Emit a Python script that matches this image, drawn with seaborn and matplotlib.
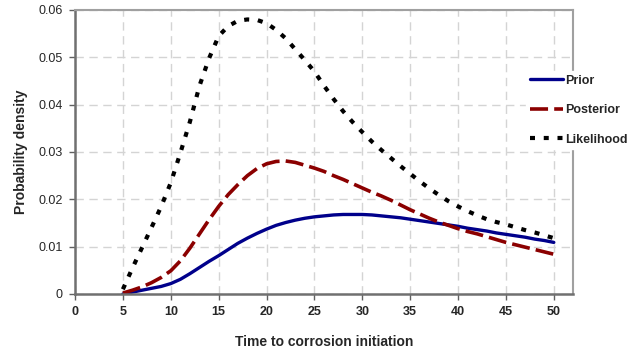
import numpy as np
import pandas as pd
import matplotlib
matplotlib.use("Agg")
import matplotlib.pyplot as plt
import seaborn as sns

# Time to corrosion initiation (years)
time = list(range(5, 51))

prior = [0.0000, 0.0004, 0.0008, 0.0012, 0.0016, 0.0022, 0.0031, 0.0043, 0.0056, 0.0069,
         0.0081, 0.0094, 0.0107, 0.0118, 0.0128, 0.0137, 0.0145, 0.0151, 0.0156, 0.0160,
         0.0163, 0.0165, 0.0167, 0.0168, 0.0168, 0.0168, 0.0167, 0.0165, 0.0163, 0.0161,
         0.0158, 0.0155, 0.0152, 0.0149, 0.0146, 0.0143, 0.0139, 0.0136, 0.0133, 0.0129,
         0.0126, 0.0123, 0.0120, 0.0116, 0.0113, 0.0109]

posterior = [0.0002, 0.0008, 0.0015, 0.0024, 0.0035, 0.0049, 0.0070, 0.0097, 0.0127, 0.0157,
             0.0185, 0.0210, 0.0231, 0.0250, 0.0265, 0.0275, 0.0280, 0.0281, 0.0278, 0.0272,
             0.0266, 0.0259, 0.0250, 0.0242, 0.0233, 0.0224, 0.0215, 0.0207, 0.0198, 0.0188,
             0.0178, 0.0169, 0.0160, 0.0152, 0.0145, 0.0138, 0.0132, 0.0127, 0.0121, 0.0115,
             0.0109, 0.0104, 0.0099, 0.0094, 0.0089, 0.0084]

likelihood = [0.0010, 0.0055, 0.0098, 0.0141, 0.0185, 0.0235, 0.0298, 0.0364, 0.0440, 0.0498,
              0.0545, 0.0566, 0.0577, 0.0580, 0.0579, 0.0572, 0.0558, 0.0540, 0.0517, 0.0494,
              0.0470, 0.0440, 0.0412, 0.0386, 0.0363, 0.0342, 0.0322, 0.0304, 0.0287, 0.0270,
              0.0254, 0.0238, 0.0223, 0.0209, 0.0196, 0.0185, 0.0175, 0.0166, 0.0158, 0.0152,
              0.0147, 0.0141, 0.0135, 0.0130, 0.0124, 0.0118]

x_ticks = list(range(0, 51, 5))
y_ticks = [0, 0.01, 0.02, 0.03, 0.04, 0.05, 0.06]
y_tick_labels = ["0", "0.01", "0.02", "0.03", "0.04", "0.05", "0.06"]

sns.set_style("white")
plt.rcParams["font.family"] = ["Liberation Sans", "DejaVu Sans"]

fig = plt.figure(figsize=(6.32, 3.54), dpi=100)
ax = fig.add_axes([0.1187, 0.1695, 0.7879, 0.8023])

series = [
    ("Prior", prior, "#00008B", "-", 2.4),
    ("Posterior", posterior, "#8B0000", (0, (5, 1.7)), 2.6),
    ("Likelihood", likelihood, "#000000", (0, (1.2, 2.1)), 3.0),
]
for name, vals, color, ls, lw in series:
    df = pd.DataFrame({"t": time, "p": vals})
    sns.lineplot(data=df, x="t", y="p", ax=ax, color=color, linestyle=ls,
                 linewidth=lw, label=name)
for line in ax.lines:
    line.set_dash_capstyle("butt")

ax.set_xlim(0, 52)
ax.set_ylim(0, 0.06)
ax.set_xticks(x_ticks)
ax.set_xticklabels([str(t) for t in x_ticks], fontweight="bold", fontsize=9)
ax.set_yticks(y_ticks)
ax.set_yticklabels(y_tick_labels, fontsize=9)

ax.grid(True, color="#d4d4d4", linestyle=(0, (6, 4)), linewidth=1)
ax.set_axisbelow(True)

ax.tick_params(axis="both", which="both", direction="out", length=4, width=1,
               color="#606060", bottom=True, left=True, pad=5)

for side in ("left", "bottom"):
    ax.spines[side].set_color("#707070")
    ax.spines[side].set_linewidth(1.8)
for side in ("top", "right"):
    ax.spines[side].set_color("#a0a0a0")
    ax.spines[side].set_linewidth(1.5)

ax.set_xlabel("Time to corrosion initiation", fontsize=10, fontweight="bold", labelpad=12)
ax.set_ylabel("Probability density", fontsize=10, fontweight="bold", labelpad=7)

ax.legend_.remove()
handles, labels = ax.get_legend_handles_labels()
leg = fig.legend(handles, labels, loc="center left", bbox_to_anchor=(0.832, 0.689),
                 frameon=True, fancybox=False, edgecolor="white", facecolor="white",
                 framealpha=1, borderaxespad=0, borderpad=0.3, handlelength=2.7,
                 handletextpad=0.15, labelspacing=1.4,
                 prop={"weight": "bold", "size": 9})
leg.set_zorder(10)

fig.savefig("out.png", dpi=100, facecolor="white")
